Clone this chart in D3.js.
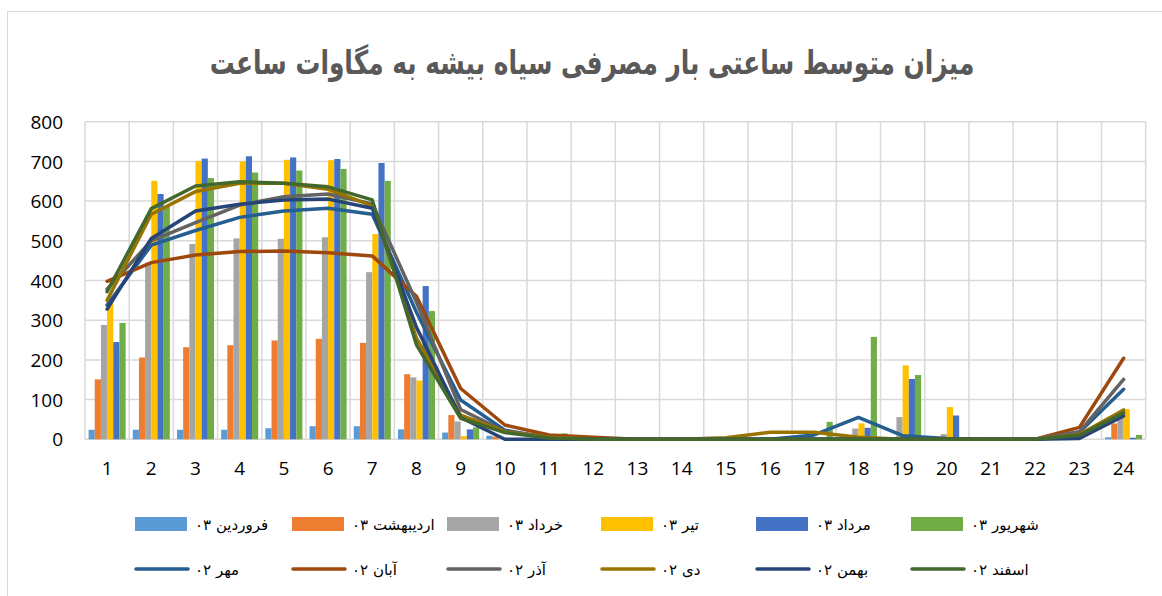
<!DOCTYPE html>
<html>
<head>
<meta charset="utf-8">
<script src="https://cdn.jsdelivr.net/npm/d3@7"></script>
<style>
  body { margin: 0; background: #fff; }
  text { font-family: "DejaVu Sans", sans-serif; }
  .tick text { font-family: "Open Sans", "Liberation Sans", sans-serif; }
</style>
</head>
<body>
<svg id="chart" width="1162" height="596"></svg>
<script>
// hours on the x axis
const hours = d3.range(1, 25).map(String);
const yTicks = [0, 100, 200, 300, 400, 500, 600, 700, 800];

// bar series (1403)
const barNames = ["فروردین ۰۳", "اردیبهشت ۰۳", "خرداد ۰۳", "تیر ۰۳", "مرداد ۰۳", "شهریور ۰۳"];
const farvardin03   = [24, 24, 24, 24, 28, 33, 33, 25, 17, 9, 0, 0, 0, 0, 0, 0, 0, 0, 0, 0, 0, 0, 0, 5];
const ordibehesht03 = [151, 206, 232, 237, 249, 253, 243, 164, 61, 7, 0, 0, 0, 0, 0, 0, 0, 0, 0, 0, 0, 0, 0, 40];
const khordad03     = [288, 445, 492, 506, 505, 509, 421, 156, 45, 0, 0, 0, 0, 0, 0, 0, 0, 27, 56, 13, 0, 0, 0, 55];
const tir03         = [345, 651, 701, 700, 704, 703, 517, 148, 8, 0, 0, 0, 0, 0, 0, 0, 0, 40, 186, 81, 0, 0, 0, 76];
const mordad03      = [245, 618, 707, 713, 710, 706, 696, 386, 25, 0, 0, 0, 0, 0, 0, 0, 0, 29, 152, 60, 0, 0, 0, 4];
const shahrivar03   = [293, 588, 658, 672, 677, 681, 651, 323, 30, 0, 15, 0, 0, 0, 0, 0, 44, 258, 162, 0, 0, 0, 0, 11];
const barSeries = [farvardin03, ordibehesht03, khordad03, tir03, mordad03, shahrivar03];
const barColors = ["#5B9BD5", "#ED7D31", "#A5A5A5", "#FFC000", "#4472C4", "#70AD47"];

// line series (1402)
const lineNames = ["مهر ۰۲", "آبان ۰۲", "آذر ۰۲", "دی ۰۲", "بهمن ۰۲", "اسفند ۰۲"];
const mehr02   = [338, 489, 526, 559, 575, 582, 567, 320, 99, 23, 4, 0, 0, 0, 0, 0, 11, 55, 9, 2, 0, 0, 18, 126];
const aban02   = [398, 445, 464, 473, 474, 470, 462, 360, 128, 36, 11, 5, 0, 0, 0, 0, 0, 0, 0, 0, 0, 0, 30, 204];
const azar02   = [378, 500, 546, 590, 611, 618, 593, 345, 75, 20, 5, 0, 0, 0, 0, 0, 0, 0, 0, 0, 0, 0, 19, 151];
const dey02    = [350, 567, 624, 645, 645, 630, 588, 255, 61, 19, 5, 0, 0, 0, 4, 18, 18, 5, 0, 0, 0, 0, 12, 74];
const bahman02 = [328, 506, 575, 592, 603, 605, 582, 282, 55, 0, 0, 0, 0, 0, 0, 0, 0, 0, 0, 0, 0, 0, 2, 59];
const esfand02 = [372, 581, 638, 649, 645, 636, 603, 238, 53, 17, 3, 0, 0, 0, 0, 0, 0, 0, 0, 0, 0, 0, 10, 67];
const lineSeries = [mehr02, aban02, azar02, dey02, bahman02, esfand02];
const lineColors = ["#255E91", "#9E480E", "#636363", "#997300", "#264478", "#43682B"];

const title = "میزان متوسط ساعتی بار مصرفی سیاه بیشه به مگاوات ساعت";

const svg = d3.select("#chart");

// outer chart border
svg.append("rect")
  .attr("x", 7.5).attr("y", 11.5)
  .attr("width", 1170).attr("height", 600)
  .attr("fill", "none").attr("stroke", "#d9d9d9").attr("stroke-width", 1);

const plotL = 85, plotR = 1145.7, plotT = 121.7, plotB = 439.3;

const x = d3.scaleBand().domain(hours).range([plotL, plotR]);
const y = d3.scaleLinear().domain([0, 800]).range([plotB, plotT]);
const xInner = d3.scaleBand().domain(d3.range(6)).range([0, x.bandwidth()]).paddingOuter(0.58);

// horizontal grid
svg.append("g").selectAll("line").data(yTicks).enter().append("line")
  .attr("x1", plotL).attr("x2", plotR)
  .attr("y1", d => y(d)).attr("y2", d => y(d))
  .attr("stroke", "#d9d9d9").attr("stroke-width", 1.5);

// vertical grid at band edges
const edges = hours.map(h => x(h)).concat([plotR]);
svg.append("g").selectAll("line").data(edges).enter().append("line")
  .attr("x1", d => d).attr("x2", d => d)
  .attr("y1", plotT).attr("y2", plotB)
  .attr("stroke", "#d9d9d9").attr("stroke-width", 1.5);

// bars
barSeries.forEach(function(vals, s) {
  svg.append("g").selectAll("rect").data(vals).enter().append("rect")
    .attr("x", (d, i) => x(hours[i]) + xInner(s))
    .attr("width", xInner.bandwidth())
    .attr("y", d => y(d))
    .attr("height", d => plotB - y(d))
    .attr("fill", barColors[s]);
});

// lines
const line = d3.line()
  .x((d, i) => x(hours[i]) + x.bandwidth() / 2)
  .y(d => y(d));
lineSeries.forEach(function(vals, s) {
  svg.append("path").datum(vals)
    .attr("d", line)
    .attr("fill", "none")
    .attr("stroke", lineColors[s])
    .attr("stroke-width", 3.5)
    .attr("stroke-linejoin", "round")
    .attr("stroke-linecap", "round");
});

// axes (labels only)
const yAxis = svg.append("g")
  .attr("transform", "translate(" + (plotL - 22) + ",0)")
  .call(d3.axisLeft(y).tickValues(yTicks).tickSize(0).tickPadding(0));
yAxis.select(".domain").remove();
yAxis.selectAll("text").attr("font-size", 19).attr("fill", "#000").attr("dy", "0.35em");

const xAxis = svg.append("g")
  .attr("transform", "translate(0," + plotB + ")")
  .call(d3.axisBottom(x).tickSize(0).tickPadding(22));
xAxis.select(".domain").remove();
xAxis.selectAll("text").attr("font-size", 19).attr("fill", "#000");

// title, narrowed to the reference width
const t = svg.append("text")
  .attr("text-anchor", "middle")
  .attr("font-weight", "bold")
  .attr("font-size", 33)
  .attr("fill", "#595959")
  .text(title);
const tw = t.node().getComputedTextLength();
t.attr("transform", "translate(592,74) scale(" + (765 / tw) + ",1)");

// legend
const legX = [135, 292, 447, 601, 756, 911];
barNames.forEach(function(name, i) {
  svg.append("rect")
    .attr("x", legX[i]).attr("y", 517)
    .attr("width", 52).attr("height", 14)
    .attr("fill", barColors[i]);
  svg.append("text")
    .attr("x", legX[i] + 60).attr("y", 530)
    .attr("font-size", 15).attr("fill", "#000")
    .text(name);
});
lineNames.forEach(function(name, i) {
  svg.append("line")
    .attr("x1", legX[i] + 1).attr("x2", legX[i] + 53)
    .attr("y1", 569).attr("y2", 569)
    .attr("stroke", lineColors[i]).attr("stroke-width", 3.5)
    .attr("stroke-linecap", "round");
  svg.append("text")
    .attr("x", legX[i] + 60).attr("y", 575)
    .attr("font-size", 15).attr("fill", "#000")
    .text(name);
});
</script>
</body>
</html>
